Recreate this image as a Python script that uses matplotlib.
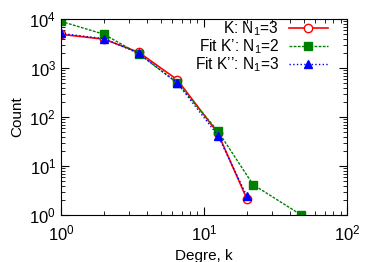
import matplotlib
matplotlib.use("Agg")
import matplotlib.pyplot as plt
from matplotlib.ticker import LogLocator, NullFormatter

plt.rcParams['font.family'] = ['Liberation Sans', 'DejaVu Sans']
plt.rcParams['mathtext.fontset'] = 'custom'
plt.rcParams['mathtext.rm'] = 'Liberation Sans'
plt.rcParams['mathtext.it'] = 'Liberation Sans'

k_x = [1, 2, 3.5, 6.5, 12.5, 20]
k_y = [4900, 3900, 2100, 580, 47, 2.1]
k1_x = [1, 2, 3.5, 6.5, 12.5, 22, 48]
k1_y = [9000, 4900, 1950, 500, 52, 4.2, 1]
k2_x = [1, 2, 3.5, 6.5, 12.5, 20]
k2_y = [5100, 4000, 2000, 500, 42, 2.4]

fig = plt.figure(figsize=(3.74, 2.62), dpi=100)
ax = fig.add_axes([0.163, 0.179, 0.765, 0.748])

ax.plot(k_x, k_y, '-', color='red', marker='o', mfc='white', mec='red', ms=6, lw=1.2,
        label='K: N$_1$=3')
ax.plot(k1_x, k1_y, '--', color='green', marker='s', mfc='green', mec='green', ms=6, lw=1.0,
        dashes=(2, 1), label='Fit K’: N$_1$=2')
ax.plot(k2_x, k2_y, ':', color='blue', marker='^', mfc='blue', mec='blue', ms=6, lw=1.0,
        label='Fit K’’: N$_1$=3')

ax.set_xscale('log')
ax.set_yscale('log')
ax.set_xlim(1, 100)
ax.set_ylim(1, 10000)
ax.xaxis.set_major_locator(LogLocator(base=10, numticks=10))
ax.yaxis.set_major_locator(LogLocator(base=10, numticks=10))
ax.xaxis.set_minor_locator(LogLocator(base=10, subs=range(2, 10), numticks=20))
ax.yaxis.set_minor_locator(LogLocator(base=10, subs=range(2, 10), numticks=20))
ax.xaxis.set_minor_formatter(NullFormatter())
ax.yaxis.set_minor_formatter(NullFormatter())
ax.tick_params(which='both', direction='in', top=True, right=True, labelsize=12)
ax.tick_params(which='major', length=6)
ax.tick_params(which='minor', length=3)
ax.tick_params(axis='x', pad=6)

ax.set_xlabel('Degre, k', fontsize=11)
ax.set_ylabel('Count', fontsize=11)

ax.legend(loc='upper right', bbox_to_anchor=(0.934, 1.0), frameon=False, markerfirst=False,
          fontsize=11.2, handlelength=2.55, labelspacing=-0.04, borderaxespad=0.0,
          borderpad=0.0, handletextpad=0.6)

fig.savefig('out.png', dpi=100)
